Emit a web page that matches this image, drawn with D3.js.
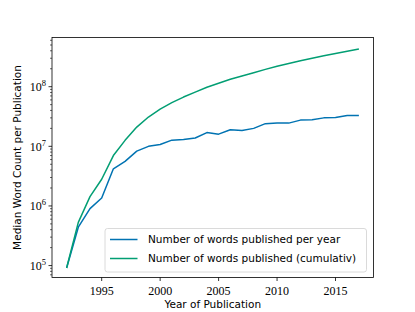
<!DOCTYPE html>
<html><head><meta charset="utf-8">
<script src="https://cdn.jsdelivr.net/npm/d3@7"></script>
<style>body{margin:0;background:#fff}</style>
</head><body>
<svg id="c" width="415" height="312"></svg>
<script>
const years = [1992,1993,1994,1995,1996,1997,1998,1999,2000,2001,2002,2003,2004,2005,2006,2007,2008,2009,2010,2011,2012,2013,2014,2015,2016,2017];
const perYear = [9.1e4,4.4e5,9.0e5,1.36e6,4.2e6,5.6e6,8.3e6,1.0e7,1.07e7,1.27e7,1.3e7,1.38e7,1.7e7,1.6e7,1.9e7,1.84e7,2.0e7,2.4e7,2.45e7,2.45e7,2.75e7,2.8e7,3.0e7,3.05e7,3.3e7,3.3e7];
const cumulative = [9.1e4,5.3e5,1.43e6,2.8e6,7.0e6,1.26e7,2.1e7,3.1e7,4.2e7,5.4e7,6.7e7,8.1e7,9.8e7,1.14e8,1.33e8,1.51e8,1.71e8,1.95e8,2.2e8,2.44e8,2.72e8,3.0e8,3.3e8,3.6e8,3.94e8,4.27e8];
const xTicks = [1995,2000,2005,2010,2015];
const yTicksExp = [5,6,7,8];
const seriesNames = ["Number of words published per year","Number of words published (cumulativ)"];
const colors = ["#0173B2","#029E73"];

const svg = d3.select("#c");
const L=52, R=373.5, T=37.5, B=277.5;
const x = d3.scaleLinear().domain([1990.75,2018.25]).range([L,R]);
const y = d3.scaleLog().domain([Math.pow(10,4.8),Math.pow(10,8.825)]).range([B,T]);

const serif = "'Liberation Serif','DejaVu Serif',serif";
const sans = "'DejaVu Sans',sans-serif";

// lines
const line = d3.line().x((d,i)=>x(years[i])).y(d=>y(d));
[perYear,cumulative].forEach((s,k)=>{
  svg.append("path").datum(s).attr("d",line).attr("fill","none")
    .attr("stroke",colors[k]).attr("stroke-width",1.5).attr("stroke-linejoin","round");
});

// frame
svg.append("rect").attr("x",L).attr("y",T).attr("width",R-L).attr("height",B-T)
  .attr("fill","none").attr("stroke","#000").attr("stroke-width",0.8);

// x axis
const gx = svg.append("g");
xTicks.forEach(t=>{
  gx.append("line").attr("x1",x(t)).attr("x2",x(t)).attr("y1",B).attr("y2",B+3.5).attr("stroke","#000").attr("stroke-width",0.8);
  gx.append("text").attr("x",x(t)).attr("y",B+17).attr("text-anchor","middle")
    .attr("font-family",serif).attr("font-size",12).text(t);
});

// y axis major + minor
const gy = svg.append("g");
const [d0,d1] = y.domain();
for(let e=4;e<=9;e++){
  for(let m=1;m<10;m++){
    const v = m*Math.pow(10,e);
    if(v<d0||v>d1) continue;
    const len = m===1?3.5:2;
    gy.append("line").attr("x1",L-len).attr("x2",L).attr("y1",y(v)).attr("y2",y(v)).attr("stroke","#000").attr("stroke-width",m===1?0.8:0.6);
  }
}
yTicksExp.forEach(e=>{
  const t = gy.append("text").attr("x",L-6).attr("y",y(Math.pow(10,e))+4.5).attr("text-anchor","end")
    .attr("font-family",serif).attr("font-size",12);
  t.append("tspan").text("10");
  t.append("tspan").attr("font-size",8.5).attr("dy",-5).text(e);
});

// axis labels
svg.append("text").attr("x",(L+R)/2).attr("y",308).attr("text-anchor","middle")
  .attr("font-family",sans).attr("font-size",10.5).text("Year of Publication");
svg.append("text").attr("transform",`translate(21,${(T+B)/2}) rotate(-90)`).attr("text-anchor","middle")
  .attr("font-family",sans).attr("font-size",10.5).text("Median Word Count per Publication");

// legend
const lg = svg.append("g");
lg.append("rect").attr("x",105).attr("y",228.5).attr("width",261.5).attr("height",43.5).attr("rx",2.5)
  .attr("fill","#fff").attr("fill-opacity",0.8).attr("stroke","#d0d0d0").attr("stroke-width",0.8);
seriesNames.forEach((n,i)=>{
  const yy = 239.5 + i*19;
  lg.append("line").attr("x1",110).attr("x2",137.5).attr("y1",yy).attr("y2",yy).attr("stroke",colors[i]).attr("stroke-width",1.5);
  lg.append("text").attr("x",148).attr("y",yy+3.8).attr("font-family",sans).attr("font-size",10.5).text(n);
});
</script>
</body></html>
